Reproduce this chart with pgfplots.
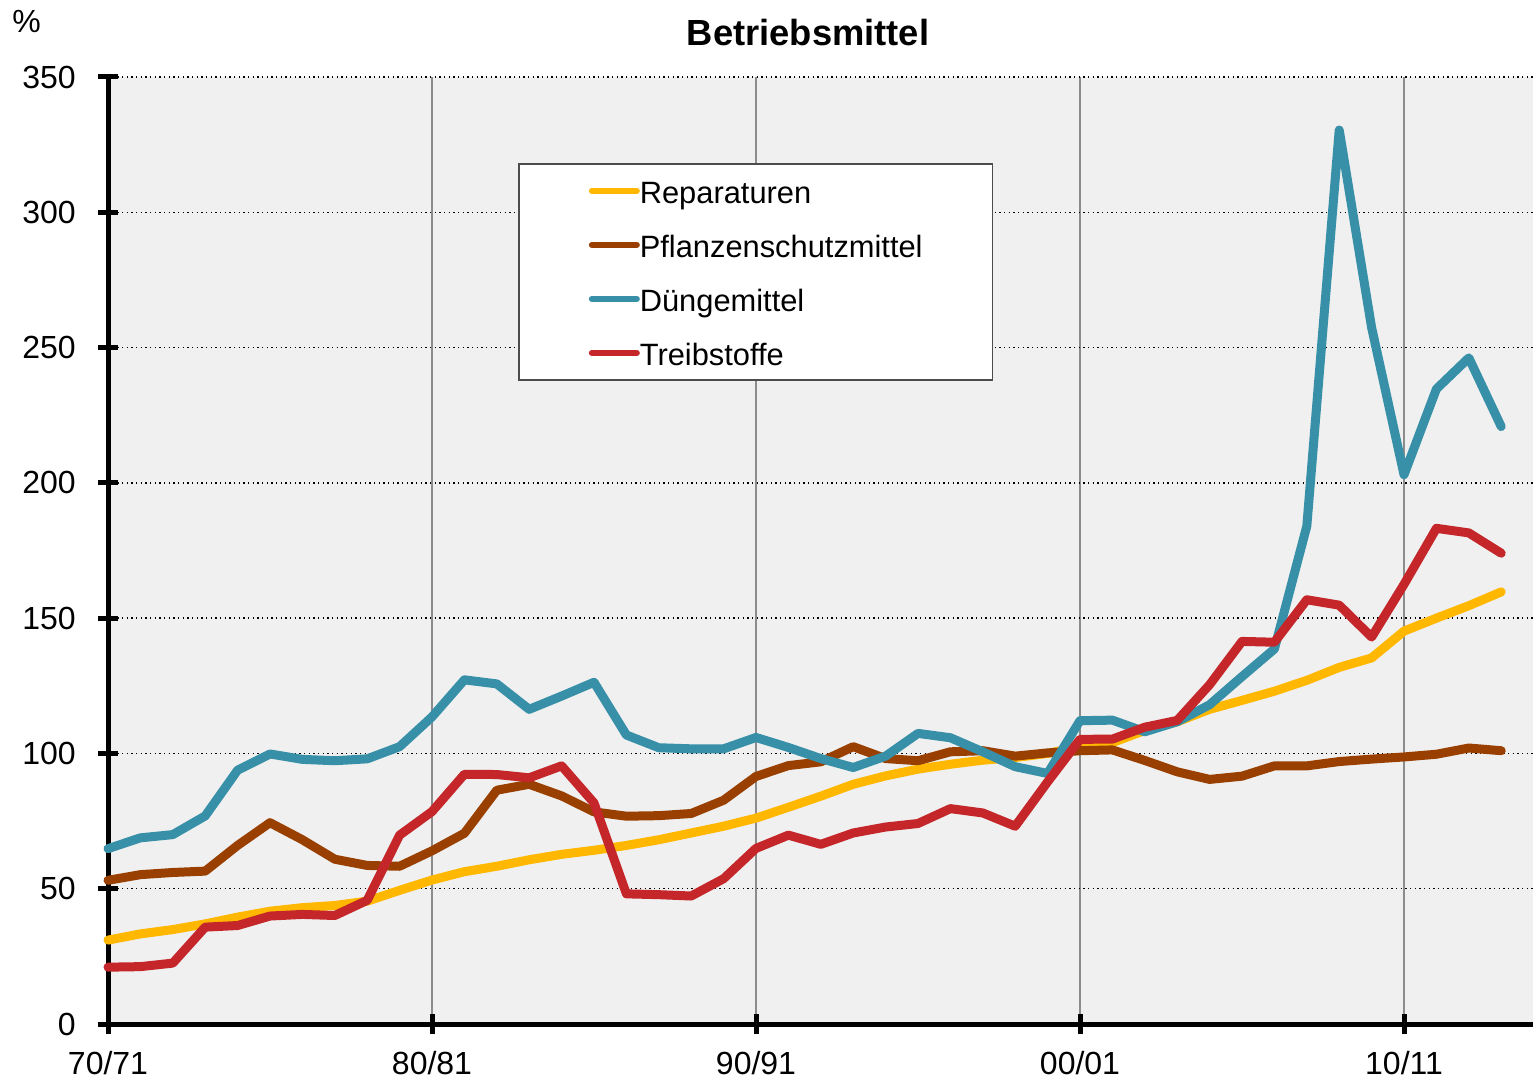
\documentclass[border=0pt]{standalone}
\usepackage{pgfplots}
\pgfplotsset{compat=1.18}
\usepackage{pgfplotstable}
\usepackage{fontspec}
\setmainfont{Liberation Sans}
\definecolor{cRep}{RGB}{255,183,0}
\definecolor{cPfl}{RGB}{153,64,0}
\definecolor{cDue}{RGB}{55,144,168}
\definecolor{cTre}{RGB}{196,38,42}
\definecolor{cBg}{RGB}{240,240,240}

\pgfplotstableread{
i rep pfl due tre
0 31.0 53.1 64.8 21.0
1 33.3 55.2 68.8 21.2
2 34.9 56.0 70.0 22.5
3 37.0 56.5 76.9 35.8
4 39.5 66.0 93.8 36.4
5 41.7 74.4 99.8 39.9
6 43.0 68.1 97.8 40.5
7 43.8 60.9 97.3 40.1
8 45.4 58.6 98.0 45.7
9 49.4 58.3 102.5 69.8
10 53.2 64.0 113.5 78.5
11 56.3 70.5 127.2 92.3
12 58.3 86.4 125.7 92.2
13 60.7 88.6 116.3 91.0
14 62.7 84.3 121.2 95.4
15 64.2 78.4 126.3 81.7
16 66.0 76.8 106.8 48.1
17 68.1 77.0 102.1 47.8
18 70.6 77.8 101.7 47.3
19 73.1 82.7 101.7 53.7
20 76.1 91.5 105.9 64.9
21 80.1 95.5 102.2 69.8
22 84.2 96.9 98.1 66.4
23 88.6 102.5 94.8 70.6
24 91.7 98.1 99.0 72.8
25 94.2 97.3 107.4 74.1
26 96.0 100.6 105.8 79.6
27 97.5 101.0 100.6 78.0
28 98.5 99.0 95.1 73.1
29 100.0 100.2 92.6 89.5
30 102.5 101.0 112.1 105.2
31 104.0 101.3 112.3 105.3
32 108.5 97.4 108.0 109.7
33 111.7 93.2 111.7 112.2
34 116.3 90.4 118.0 125.4
35 119.6 91.6 128.4 141.4
36 123.0 95.4 138.6 141.1
37 127.0 95.4 184.0 156.8
38 131.8 97.0 330.4 154.8
39 135.3 97.9 257.4 143.0
40 145.2 98.7 203.0 162.5
41 150.0 99.7 234.7 183.2
42 154.6 102.0 246.2 181.5
43 159.7 101.0 220.8 174.0
}\datatable

\begin{document}
\begin{tikzpicture}
\useasboundingbox (-32.4pt,-16.5pt) rectangle (427.5pt,307.2pt);
\begin{axis}[
  scale only axis,
  width=427.68pt, height=284.1pt,
  xmin=0, xmax=44, ymin=0, ymax=350,
  axis x line=bottom, axis y line=left,
  axis line style={-, line width=1.5pt, black},
  axis background/.style={fill=cBg},
  xtick={0,10,20,30,40},
  xticklabels={70/71,80/81,90/91,00/01,10/11},
  ytick={0,50,100,150,200,250,300,350},
  tick align=center,
  major tick length=6pt,
  tick style={line width=1.5pt, black},
  xmajorgrids, ymajorgrids,
  x grid style={line width=0.6pt, black!45},
  y grid style={line width=0.4pt, black, densely dotted},
  /pgf/number format/assume math mode=true,
  tick label style={font=\fontsize{9.6}{11.5}\selectfont},
  yticklabel style={inner sep=0pt, anchor=east, xshift=-6.5pt},
  xticklabel style={inner sep=0pt, anchor=base, yshift=-12.2pt},
  clip=false,
  title={Betriebsmittel},
  title style={at={(rel axis cs:0.491,1)}, anchor=base, yshift=3.3pt, inner sep=0pt, font=\bfseries\fontsize{10.9}{13}\selectfont},
  legend cell align=left,
  legend style={at={(rel axis cs:0.2876,0.9092)}, anchor=north west,
    draw=black!70, line width=0.5pt, fill=white,
    font=\fontsize{9.25}{11}\selectfont,
    inner xsep=21pt, inner ysep=3.3pt,
    nodes={inner sep=0pt, text height=8.5pt, text depth=1.1pt},
    row sep=6.6pt, column sep=0pt},
  legend image code/.code={\draw[#1, line width=1.8pt, line cap=round] (0.3pt,0pt) -- (13.8pt,0pt);},
  every axis plot/.append style={line width=2.7pt, line cap=round, line join=round, mark=none},
]
\addplot[cRep] table[x=i, y=rep] {\datatable};
\addlegendentry{Reparaturen}
\addplot[cPfl] table[x=i, y=pfl] {\datatable};
\addlegendentry{Pflanzenschutzmittel}
\addplot[cDue] table[x=i, y=due] {\datatable};
\addlegendentry{Düngemittel}
\addplot[cTre] table[x=i, y=tre] {\datatable};
\addlegendentry{Treibstoffe}
\node[anchor=base, inner sep=0pt, font=\fontsize{9.6}{11.5}\selectfont] at ([xshift=-24.4pt, yshift=13.2pt]rel axis cs:0,1) {\%};
\end{axis}
\end{tikzpicture}
\end{document}
